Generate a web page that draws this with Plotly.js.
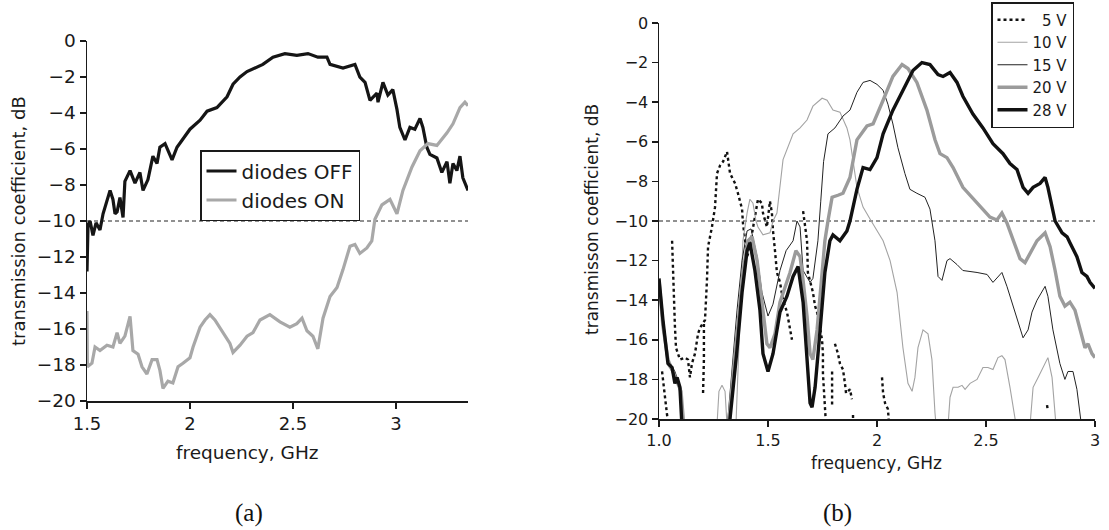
<!DOCTYPE html>
<html>
<head>
<meta charset="utf-8">
<script src="https://cdn.plot.ly/plotly-3.0.1.min.js"></script>
<style>
  html, body { margin: 0; padding: 0; background: #ffffff; }
  #chart { width: 1109px; height: 530px; }
</style>
</head>
<body>
<div id="chart"></div>
<script>
// ---------- Panel (a): diodes OFF / ON ----------
const offFreq = [1.500,1.505,1.515,1.529,1.544,1.563,1.578,1.597,1.612,1.626,1.636,1.646,1.660,1.675,1.684,1.709,1.733,1.757,1.772,1.796,1.820,1.840,1.854,1.879,1.913,1.937,2.000,2.049,2.083,2.131,2.180,2.209,2.243,2.277,2.354,2.403,2.461,2.519,2.573,2.621,2.665,2.680,2.743,2.801,2.825,2.850,2.874,2.908,2.913,2.937,2.961,2.985,3.005,3.019,3.044,3.068,3.092,3.117,3.131,3.150,3.165,3.199,3.223,3.248,3.262,3.277,3.296,3.311,3.325,3.350];
const offDb = [-12.8,-10.2,-10.0,-10.8,-10.1,-10.5,-9.6,-8.9,-8.3,-8.8,-9.6,-9.5,-8.7,-9.8,-7.8,-7.2,-7.9,-7.3,-8.3,-7.7,-6.4,-6.8,-5.9,-5.7,-6.6,-5.9,-4.9,-4.4,-3.9,-3.7,-3.1,-2.4,-2.0,-1.7,-1.3,-0.9,-0.7,-0.8,-0.7,-0.9,-0.9,-1.3,-1.5,-1.3,-2.0,-2.3,-3.3,-2.9,-3.4,-2.3,-3.0,-2.7,-3.8,-4.8,-5.5,-4.8,-4.9,-4.3,-4.8,-5.9,-6.3,-6.5,-7.3,-6.7,-7.9,-6.8,-7.2,-6.4,-7.6,-8.3];

const onFreq = [1.500,1.502,1.524,1.539,1.563,1.597,1.626,1.646,1.660,1.684,1.709,1.723,1.748,1.767,1.791,1.816,1.840,1.854,1.869,1.893,1.917,1.942,1.966,2.000,2.015,2.049,2.073,2.097,2.121,2.155,2.194,2.209,2.243,2.277,2.306,2.340,2.388,2.437,2.485,2.519,2.544,2.568,2.597,2.621,2.646,2.680,2.714,2.743,2.777,2.801,2.825,2.859,2.883,2.898,2.932,2.971,3.005,3.034,3.078,3.117,3.155,3.199,3.248,3.277,3.311,3.335,3.350];
const onDb = [-15.0,-18.1,-17.9,-17.0,-17.2,-16.9,-17.0,-16.2,-16.8,-16.4,-15.3,-17.2,-17.4,-18.1,-18.5,-17.7,-17.7,-18.3,-19.3,-18.9,-19.0,-18.1,-17.9,-17.6,-17.0,-15.9,-15.5,-15.2,-15.5,-16.1,-16.8,-17.3,-16.9,-16.4,-16.2,-15.5,-15.2,-15.6,-15.9,-15.7,-15.4,-16.1,-16.4,-17.1,-15.4,-14.2,-13.7,-12.7,-11.4,-11.3,-11.8,-11.5,-11.1,-9.9,-9.1,-8.8,-9.6,-8.3,-7.0,-6.1,-5.7,-5.8,-5.1,-4.6,-3.7,-3.4,-3.6];

// ---------- Panel (b): bias voltages ----------
const v5Freq = [1.014,1.023,1.037,1.045,null,1.060,1.064,1.069,1.073,1.078,1.096,1.119,1.133,1.142,1.151,1.165,1.179,1.188,1.211,1.220,1.225,1.243,1.257,1.266,1.280,1.294,1.312,1.326,1.349,1.362,1.381,1.385,1.394,1.404,1.413,1.431,1.454,1.472,1.477,1.495,1.509,1.518,1.523,1.532,1.541,1.555,1.569,1.587,1.601,1.610,null,1.206,1.206,1.202,null,1.661,1.670,1.679,1.683,1.693,1.706,1.716,1.725,1.748,1.752,1.752,1.761,1.766,null,1.794,1.794,null,1.807,1.821,1.830,1.844,1.853,1.858,1.876,1.885,null,1.890,1.890,null,2.023,2.028,2.037,2.050,2.055,null,2.780,2.784];
const v5Db = [-17.6,-18.6,-19.8,-20.3,null,-11.0,-12.5,-14.0,-15.3,-16.4,-17.0,-16.9,-17.0,-17.9,-17.2,-16.7,-15.7,-15.4,-15.0,-13.0,-11.3,-10.3,-9.3,-7.6,-7.2,-7.0,-6.5,-7.6,-8.1,-8.6,-9.4,-10.1,-11.0,-11.8,-11.5,-10.3,-8.9,-9.1,-9.6,-10.3,-9.0,-9.6,-10.5,-11.5,-12.6,-13.1,-14.0,-14.6,-15.4,-16.0,null,-15.2,-17.0,-18.7,null,-9.5,-10.3,-11.0,-12.6,-13.0,-13.6,-14.3,-14.6,-16.0,-16.7,-17.7,-19.4,-20.3,null,-17.6,-19.4,null,-16.2,-16.7,-17.2,-17.5,-18.2,-18.7,-18.5,-19.0,null,-19.8,-20.3,null,-17.9,-18.7,-19.2,-19.5,-20.2,null,-19.3,-19.6];

const v10Freq = [1.000,1.018,1.041,1.078,1.101,1.110,null,1.266,1.275,1.289,1.303,1.312,null,1.353,1.372,1.385,1.404,1.417,1.431,1.445,1.454,1.477,1.509,1.523,1.541,1.555,1.569,1.615,1.647,1.679,1.706,1.748,1.771,1.798,1.830,1.862,1.876,1.908,1.936,1.968,2.000,2.028,2.060,2.092,2.119,2.142,2.161,2.174,2.188,2.211,2.234,2.252,2.266,2.271,null,2.326,2.335,2.349,2.372,2.390,2.404,2.427,2.459,2.486,2.509,2.532,2.555,2.573,2.587,2.610,2.633,2.638,null,2.702,2.716,2.739,2.761,2.784,2.803,2.817,2.821];
const v10Db = [-13.3,-15.5,-17.3,-17.9,-18.8,-20.5,null,-20.3,-18.6,-18.3,-18.6,-20.3,null,-20.3,-15.0,-11.0,-9.6,-8.9,-9.1,-10.0,-10.3,-10.7,-10.6,-10.0,-9.6,-8.3,-6.9,-5.6,-5.3,-4.9,-4.2,-3.8,-3.9,-4.4,-4.5,-5.3,-5.9,-8.3,-9.3,-9.9,-10.5,-11.0,-12.0,-13.6,-16.4,-18.2,-18.6,-17.9,-16.4,-15.5,-15.7,-17.0,-19.7,-20.3,null,-20.3,-18.9,-18.4,-18.4,-18.3,-18.5,-18.2,-18.0,-17.4,-17.4,-17.5,-16.9,-16.8,-17.0,-18.4,-19.9,-20.3,null,-20.3,-18.4,-17.9,-17.4,-16.9,-17.9,-19.9,-20.3];

const v15Freq = [1.000,1.023,1.041,1.073,1.101,1.115,null,1.312,1.335,1.358,1.381,1.404,1.422,1.450,1.472,1.500,1.523,1.555,1.583,1.615,1.633,1.647,1.661,1.693,1.706,1.729,1.742,1.755,1.775,1.807,1.844,1.876,1.908,1.936,1.968,2.000,2.028,2.050,2.073,2.096,2.128,2.151,2.183,2.220,2.243,2.257,2.266,2.280,2.298,2.321,2.335,2.367,2.394,2.459,2.505,2.532,2.573,2.596,2.624,2.656,2.670,2.693,2.711,2.734,2.757,2.771,2.784,2.807,2.839,2.862,2.876,2.899,2.917,2.931,2.940];
const v15Db = [-13.0,-15.3,-17.0,-17.6,-18.5,-20.5,null,-20.5,-17.5,-14.5,-12.0,-10.5,-10.4,-11.8,-13.6,-14.8,-14.2,-12.5,-11.5,-11.0,-10.0,-10.3,-12.5,-13.1,-12.9,-11.0,-9.0,-7.0,-5.6,-5.3,-4.7,-4.4,-3.5,-3.0,-2.9,-3.1,-3.4,-4.1,-5.1,-6.3,-7.6,-8.4,-8.6,-8.8,-9.4,-10.5,-11.0,-12.8,-13.0,-12.0,-11.9,-12.2,-12.5,-12.6,-12.7,-13.1,-12.6,-13.3,-14.3,-15.4,-15.9,-15.5,-14.6,-14.0,-13.6,-13.3,-13.8,-15.5,-17.2,-18.0,-17.6,-17.6,-18.5,-19.9,-20.5];

const v20Freq = [1.000,1.018,1.041,1.073,1.101,1.115,null,1.317,1.339,1.362,1.385,1.408,1.427,1.450,1.472,1.495,1.509,1.532,1.555,1.578,1.601,1.628,1.647,1.661,1.679,1.693,1.706,1.725,1.739,1.761,1.775,1.794,1.821,1.844,1.876,1.908,1.954,1.982,2.028,2.073,2.115,2.142,2.183,2.229,2.266,2.289,2.321,2.349,2.394,2.459,2.518,2.550,2.573,2.596,2.624,2.656,2.679,2.702,2.734,2.771,2.794,2.817,2.839,2.862,2.885,2.908,2.931,2.954,2.968,2.986,3.000];
const v20Db = [-13.0,-15.3,-17.0,-17.8,-18.6,-20.5,null,-20.5,-17.9,-15.0,-12.6,-11.0,-10.8,-12.0,-14.1,-16.2,-16.4,-15.7,-14.1,-13.3,-12.6,-11.5,-11.8,-13.0,-14.8,-16.7,-17.0,-15.5,-13.6,-11.0,-10.0,-8.8,-8.7,-8.6,-7.8,-5.9,-5.2,-5.1,-3.9,-2.7,-2.1,-2.3,-3.0,-4.4,-5.9,-6.6,-6.8,-7.3,-8.3,-9.1,-9.8,-9.95,-9.6,-10.1,-11.0,-11.9,-12.1,-11.6,-11.0,-10.6,-11.3,-12.5,-13.8,-14.3,-14.1,-14.5,-15.4,-16.4,-16.2,-16.7,-16.9];

const v28Freq = [1.000,1.018,1.041,1.060,1.073,1.083,1.096,1.101,1.106,null,1.321,1.335,1.358,1.381,1.404,1.417,1.440,1.463,1.477,1.500,1.523,1.555,1.587,1.615,1.638,1.661,1.679,1.693,1.702,1.716,1.739,1.761,1.784,1.798,1.830,1.862,1.876,1.908,1.936,1.968,2.000,2.028,2.073,2.119,2.165,2.206,2.243,2.280,2.303,2.335,2.367,2.394,2.440,2.486,2.532,2.578,2.610,2.642,2.670,2.693,2.716,2.748,2.771,2.784,2.803,2.817,2.849,2.872,2.885,2.917,2.940,2.963,2.977,3.000];
const v28Db = [-12.9,-15.0,-17.2,-17.4,-18.2,-17.9,-18.4,-19.9,-20.5,null,-20.5,-19.0,-16.5,-13.6,-11.5,-11.1,-12.5,-14.5,-16.7,-17.6,-16.7,-14.6,-13.8,-12.8,-12.3,-14.1,-16.7,-19.2,-19.4,-18.4,-15.5,-12.6,-11.0,-10.7,-11.0,-10.5,-10.0,-8.4,-7.3,-7.4,-6.8,-5.6,-4.4,-3.4,-2.4,-2.0,-2.1,-2.6,-2.7,-2.5,-3.0,-3.7,-4.6,-5.3,-6.1,-6.6,-7.1,-7.4,-8.3,-8.6,-8.3,-8.1,-7.8,-8.3,-9.3,-10.0,-10.6,-10.8,-11.1,-11.8,-12.6,-12.8,-13.1,-13.4];

// ---------- labels & ticks ----------
const seriesNamesA = ['diodes OFF', 'diodes ON'];
const seriesNamesB = ['\u20075 V', '10 V', '15 V', '20 V', '28 V'];
const tickValsA = [1.5, 2, 2.5, 3];
const tickTextA = ['1.5', '2', '2.5', '3'];
const tickValsB = [1.0, 1.5, 2, 2.5, 3];
const tickTextB = ['1.0', '1.5', '2', '2.5', '3'];
const yTickVals = [-20, -18, -16, -14, -12, -10, -8, -6, -4, -2, 0];
const thresholdDb = -10;
const xTitle = 'frequency, GHz';
const yTitleA = 'transmission coefficient, dB';
const yTitleB = 'transmisson coefficient, dB';
const captions = ['(a)', '(b)'];

// ---------- figure ----------
const W = 1109, H = 530;
const px = v => v / W;
const py = v => 1 - v / H;
const SANS = 'DejaVu Sans, Verdana, sans-serif';
const INK = '#1a1a1a';

const traces = [
  {x: offFreq, y: offDb, name: seriesNamesA[0], xaxis: 'x', yaxis: 'y', mode: 'lines',
   line: {color: '#151515', width: 3.2}, legend: 'legend'},
  {x: onFreq, y: onDb, name: seriesNamesA[1], xaxis: 'x', yaxis: 'y', mode: 'lines',
   line: {color: '#a8a8a8', width: 3.2}, legend: 'legend'},
  {x: v5Freq, y: v5Db, name: seriesNamesB[0], xaxis: 'x2', yaxis: 'y2', mode: 'lines',
   line: {color: '#111111', width: 2.4, dash: '3px,3px'}, legend: 'legend2'},
  {x: v10Freq, y: v10Db, name: seriesNamesB[1], xaxis: 'x2', yaxis: 'y2', mode: 'lines',
   line: {color: '#a3a3a3', width: 1.1}, legend: 'legend2'},
  {x: v15Freq, y: v15Db, name: seriesNamesB[2], xaxis: 'x2', yaxis: 'y2', mode: 'lines',
   line: {color: '#222222', width: 1.0}, legend: 'legend2'},
  {x: v20Freq, y: v20Db, name: seriesNamesB[3], xaxis: 'x2', yaxis: 'y2', mode: 'lines',
   line: {color: '#9b9b9b', width: 3.4}, legend: 'legend2'},
  {x: v28Freq, y: v28Db, name: seriesNamesB[4], xaxis: 'x2', yaxis: 'y2', mode: 'lines',
   line: {color: '#111111', width: 3.4}, legend: 'legend2'}
];

const axisCommon = {
  showline: true, linecolor: INK, linewidth: 1.5,
  ticks: 'outside', ticklen: 6, tickwidth: 1.5, tickcolor: INK,
  showgrid: false, zeroline: false, fixedrange: true
};

const layout = {
  width: W, height: H,
  margin: {l: 0, r: 0, t: 0, b: 0, pad: 0},
  paper_bgcolor: '#ffffff', plot_bgcolor: '#ffffff',
  font: {family: SANS, color: INK},
  xaxis: Object.assign({}, axisCommon, {
    domain: [px(87), px(468)], range: [1.5, 3.35], anchor: 'y',
    tickmode: 'array', tickvals: tickValsA, ticktext: tickTextA,
    tickfont: {family: SANS, size: 18, color: INK}
  }),
  yaxis: Object.assign({}, axisCommon, {
    domain: [py(401), py(41)], range: [-20, 0], anchor: 'x',
    tickmode: 'array', tickvals: yTickVals,
    tickfont: {family: SANS, size: 18.5, color: INK}
  }),
  xaxis2: Object.assign({}, axisCommon, {
    domain: [px(659), px(1095)], range: [1.0, 3.0], anchor: 'y2',
    tickmode: 'array', tickvals: tickValsB, ticktext: tickTextB,
    tickfont: {family: SANS, size: 16, color: INK}
  }),
  yaxis2: Object.assign({}, axisCommon, {
    domain: [py(419), py(23)], range: [-20, 0], anchor: 'x2',
    tickmode: 'array', tickvals: yTickVals,
    tickfont: {family: SANS, size: 16, color: INK}
  }),
  shapes: [
    {type: 'line', xref: 'x domain', x0: 0, x1: 1, yref: 'y', y0: thresholdDb, y1: thresholdDb,
     line: {color: '#222', width: 1, dash: '4px,3px'}, layer: 'below'},
    {type: 'line', xref: 'x2 domain', x0: 0, x1: 1, yref: 'y2', y0: thresholdDb, y1: thresholdDb,
     line: {color: '#222', width: 1, dash: '4px,3px'}, layer: 'below'}
  ],
  legend: {
    x: px(200), y: py(150), xanchor: 'left', yanchor: 'top',
    bgcolor: '#ffffff', bordercolor: INK, borderwidth: 1.5,
    font: {family: SANS, size: 20, color: INK}, tracegroupgap: 0
  },
  legend2: {
    x: px(991), y: py(2), xanchor: 'left', yanchor: 'top',
    bgcolor: '#ffffff', bordercolor: INK, borderwidth: 1.5,
    font: {family: SANS, size: 15, color: INK}, tracegroupgap: 0
  },
  showlegend: true,
  annotations: [
    {text: yTitleA, xref: 'paper', yref: 'paper', x: px(18), y: py(221),
     xanchor: 'center', yanchor: 'middle', textangle: -90, showarrow: false,
     font: {family: SANS, size: 18, color: INK}},
    {text: xTitle, xref: 'paper', yref: 'paper', x: px(247), y: py(452),
     xanchor: 'center', yanchor: 'middle', showarrow: false,
     font: {family: SANS, size: 18.5, color: INK}},
    {text: yTitleB, xref: 'paper', yref: 'paper', x: px(592), y: py(220),
     xanchor: 'center', yanchor: 'middle', textangle: -90, showarrow: false,
     font: {family: SANS, size: 17, color: INK}},
    {text: xTitle, xref: 'paper', yref: 'paper', x: px(876), y: py(463),
     xanchor: 'center', yanchor: 'middle', showarrow: false,
     font: {family: SANS, size: 17, color: INK}},
    {text: captions[0], xref: 'paper', yref: 'paper', x: px(249), y: py(513),
     xanchor: 'center', yanchor: 'middle', showarrow: false,
     font: {family: 'Liberation Serif, DejaVu Serif, serif', size: 25, color: '#111'}},
    {text: captions[1], xref: 'paper', yref: 'paper', x: px(837), y: py(513),
     xanchor: 'center', yanchor: 'middle', showarrow: false,
     font: {family: 'Liberation Serif, DejaVu Serif, serif', size: 25, color: '#111'}}
  ]
};

Plotly.newPlot('chart', traces, layout, {staticPlot: true, displayModeBar: false});
</script>
</body>
</html>
